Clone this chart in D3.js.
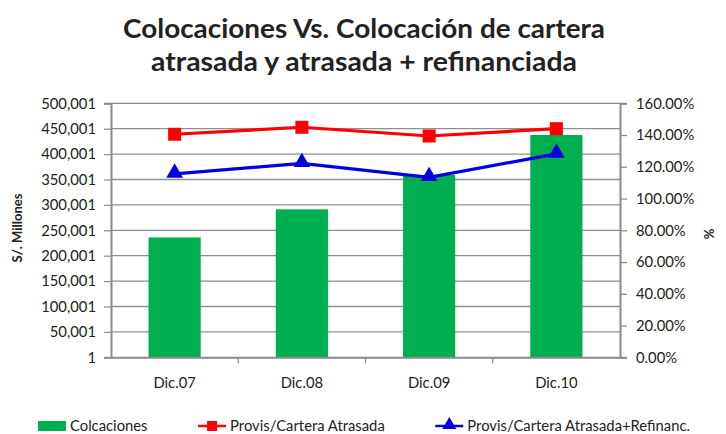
<!DOCTYPE html>
<html><head><meta charset="utf-8">
<script src="https://cdn.jsdelivr.net/npm/d3@7"></script>
<style>body{margin:0;background:#fff}svg{display:block}text{font-family:Lato,"Open Sans",sans-serif;fill:#222}</style>
</head><body>
<svg id="c" width="726" height="434"></svg>
<script>
const categories = ["Dic.07","Dic.08","Dic.09","Dic.10"];
const colocaciones = [236000, 291300, 358900, 437600];
const provisAtrasada = [1.405, 1.449, 1.394, 1.440];
const provisRefin = [1.155, 1.222, 1.134, 1.281];
const leftTicks = [1,50001,100001,150001,200001,250001,300001,350001,400001,450001,500001];
const rightTicks = [0,0.2,0.4,0.6,0.8,1.0,1.2,1.4,1.6];
const titleLines = ["Colocaciones Vs. Colocación de cartera","atrasada y atrasada + refinanciada"];
const seriesNames = ["Colcaciones","Provis/Cartera Atrasada","Provis/Cartera Atrasada+Refinanc."];

const svg = d3.select("#c");
const L=111, R=620, T=103.3, B=357.3;
const FS = "14.8px";
const x = d3.scaleBand().domain(categories).range([L,R]).paddingInner(0.59).paddingOuter(0.295);
const xb = d3.scaleBand().domain(categories).range([L,R]);
const yL = d3.scaleLinear().domain([1,500001]).range([B,T]);
const yR = d3.scaleLinear().domain([0,1.6]).range([B,T]);
const grid="#8f8f8f";

svg.append("g").selectAll("line").data(leftTicks.slice(1)).join("line")
  .attr("x1",L).attr("x2",R).attr("y1",d=>yL(d)).attr("y2",d=>yL(d))
  .attr("stroke",grid).attr("stroke-width",1.3);

svg.append("g").selectAll("rect").data(colocaciones).join("rect")
  .attr("x",(d,i)=>x(categories[i])).attr("width",x.bandwidth())
  .attr("y",d=>yL(d)).attr("height",d=>B-yL(d)).attr("fill","#00B050");

const fmt = d3.format(",");
const gl = svg.append("g").attr("transform",`translate(${L},0)`)
  .call(d3.axisLeft(yL).tickValues(leftTicks).tickFormat(fmt).tickSize(7).tickPadding(8));
const gr = svg.append("g").attr("transform",`translate(${R},0)`)
  .call(d3.axisRight(yR).tickValues(rightTicks).tickFormat(d3.format(".2%")).tickSize(7).tickPadding(9));
const gx = svg.append("g").attr("transform",`translate(0,${B})`)
  .call(d3.axisBottom(xb).tickSize(0).tickPadding(20));
[gl,gr,gx].forEach(g=>{
  g.select(".domain").attr("stroke","#8a8a8a").attr("stroke-width",2);
  g.selectAll(".tick line").attr("stroke","#8a8a8a").attr("stroke-width",1.2);
  g.selectAll("text").style("font-family","Lato,'Open Sans',sans-serif").style("font-size",FS).attr("fill","#333");
});
gx.selectAll(".tick line").remove();
svg.append("g").selectAll("line").data(categories.slice(1)).join("line")
  .attr("x1",d=>xb(d)).attr("x2",d=>xb(d)).attr("y1",B).attr("y2",B+6)
  .attr("stroke","#8a8a8a").attr("stroke-width",1.2);

const cx = d=>xb(d)+xb.bandwidth()/2;
function drawLine(vals,color){
  const line = d3.line().x((d,i)=>cx(categories[i])).y(d=>yR(d));
  svg.append("path").datum(vals).attr("d",line).attr("fill","none").attr("stroke",color).attr("stroke-width",3.2);
}
drawLine(provisAtrasada,"#FF0000");
drawLine(provisRefin,"#0000E0");
svg.append("g").selectAll("rect").data(provisAtrasada).join("rect")
  .attr("x",(d,i)=>cx(categories[i])-6.5).attr("y",d=>yR(d)-6.5).attr("width",13).attr("height",13).attr("fill","#FF0000");
const tri = d3.symbol().type(d3.symbolTriangle).size(120);
svg.append("g").selectAll("path").data(provisRefin).join("path")
  .attr("d",tri).attr("transform",(d,i)=>`translate(${cx(categories[i])},${yR(d)-1})`).attr("fill","#0000E0");

const tl = [ [364,37.5,482], [364,71,426] ];
titleLines.forEach((t,i)=>{
  svg.append("text").attr("x",tl[i][0]).attr("y",tl[i][1]).attr("text-anchor","middle")
   .style("font-size","27px").style("font-weight","bold").attr("fill","#111")
   .attr("textLength",tl[i][2]).attr("lengthAdjust","spacingAndGlyphs").text(t);
});

svg.append("text").attr("transform","translate(22,228) rotate(-90)").attr("text-anchor","middle")
  .style("font-size","13px").style("font-weight","bold").attr("fill","#333").text("S/. Millones");
svg.append("text").attr("transform","translate(714,234) rotate(-90)").attr("text-anchor","middle")
  .style("font-size","13px").style("font-weight","bold").attr("fill","#333").text("%");

// legend: measured widths, spread between x0 and x1
const ly=426, lx0=38, lx1=690;
const groups = [], widths = [];
seriesNames.forEach((name,i)=>{
  const g = svg.append("g");
  if(i===0){
    g.append("rect").attr("x",0).attr("y",ly-5).attr("width",28).attr("height",10).attr("fill","#00B050");
  } else {
    const col = i===1?"#FF0000":"#0000E0";
    g.append("line").attr("x1",0).attr("x2",28).attr("y1",ly).attr("y2",ly).attr("stroke",col).attr("stroke-width",2.5);
    if(i===1) g.append("rect").attr("x",9).attr("y",ly-5).attr("width",10).attr("height",10).attr("fill",col);
    else g.append("path").attr("d",d3.symbol().type(d3.symbolTriangle).size(85)).attr("transform",`translate(14,${ly-1})`).attr("fill",col);
  }
  const t = g.append("text").attr("x",32).attr("y",ly+5).style("font-size",FS).attr("fill","#333").text(name);
  groups.push(g); widths.push(32 + t.node().getComputedTextLength());
});
const gap = (lx1 - lx0 - d3.sum(widths)) / (groups.length - 1);
let cur = lx0;
groups.forEach((g,i)=>{ g.attr("transform",`translate(${cur},0)`); cur += widths[i] + gap; });
</script>
</body></html>
